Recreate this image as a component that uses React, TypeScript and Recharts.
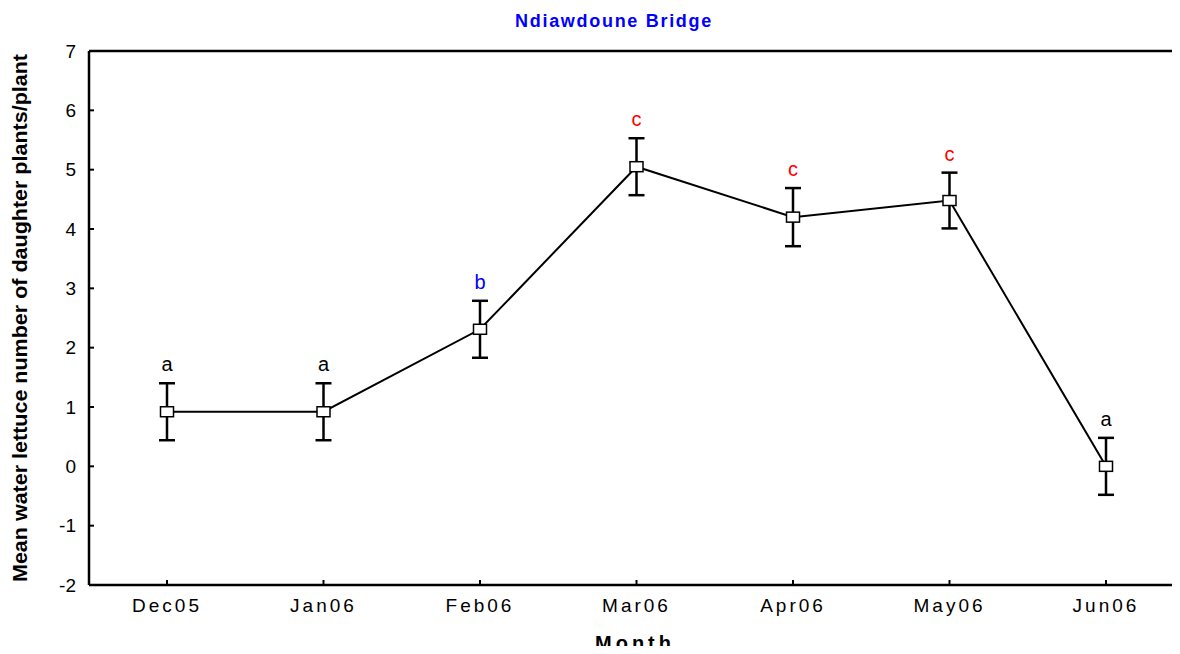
import React from 'react';
import {
  ComposedChart,
  Line,
  XAxis,
  YAxis,
  ErrorBar,
  LabelList,
} from 'recharts';

// values
const months = ['Dec05', 'Jan06', 'Feb06', 'Mar06', 'Apr06', 'May06', 'Jun06'];
const means = [0.92, 0.92, 2.31, 5.05, 4.2, 4.48, 0.0];
const errors = [0.48, 0.48, 0.48, 0.48, 0.49, 0.47, 0.48];
const letters = ['a', 'a', 'b', 'c', 'c', 'c', 'a'];
const letterColors = ['#000000', '#000000', '#0000ff', '#ff0000', '#ff0000', '#ff0000', '#000000'];
const yTicks = [-2, -1, 0, 1, 2, 3, 4, 5, 6, 7];

const data = months.map((m, i) => ({
  month: m,
  mean: means[i],
  err: errors[i],
  upper: means[i] + errors[i],
  letter: letters[i],
}));

const FONT = 'Arial, "Liberation Sans", sans-serif';
const NARROW = '"Liberation Sans Narrow", "Arial Narrow", "Liberation Sans", sans-serif';

const SquareDot = (props: any) => {
  const { cx, cy } = props;
  if (cx == null || cy == null) return null;
  return (
    <rect
      x={cx - 6.5}
      y={cy - 5}
      width={13}
      height={10}
      fill="#ffffff"
      stroke="#000000"
      strokeWidth={1.5}
    />
  );
};

const LetterLabel = (props: any) => {
  const { x, y, index, value } = props;
  return (
    <text
      x={x}
      y={y - 12}
      textAnchor="middle"
      fontFamily={FONT}
      fontSize={20}
      fill={letterColors[index]}
    >
      {value}
    </text>
  );
};

export default function App() {
  return (
    <div
      style={{
        margin: -8,
        width: 1180,
        height: 654,
        overflow: 'hidden',
        position: 'relative',
        background: '#ffffff',
      }}
    >
      <ComposedChart
        width={1200}
        height={654}
        data={data}
        margin={{ top: 50, right: 14, bottom: 0, left: 0 }}
      >
        <XAxis
          xAxisId="bottom"
          dataKey="month"
          orientation="bottom"
          height={69}
          padding={{ left: 78, right: 79 }}
          axisLine={{ stroke: '#000', strokeWidth: 2.5 }}
          tickLine={{ stroke: '#000', strokeWidth: 2 }}
          tickSize={-5}
          tickMargin={19}
          interval={0}
          tick={{ fill: '#000', fontSize: 19, fontFamily: FONT, letterSpacing: 3 }}
          label={{
            content: () => (
              <text
                x={635}
                y={650}
                textAnchor="middle"
                fontFamily={FONT}
                fontSize={20}
                fontWeight="bold"
                fill="#000"
                letterSpacing={4}
              >
                Month
              </text>
            ),
          }}
        />
        <XAxis
          xAxisId="top"
          dataKey="month"
          orientation="top"
          height={1}
          padding={{ left: 78, right: 79 }}
          axisLine={{ stroke: '#000', strokeWidth: 2.5 }}
          tickLine={{ stroke: '#000', strokeWidth: 2 }}
          tickSize={-5}
          tick={false}
          interval={0}
          label={{
            content: () => (
              <text
                x={614}
                y={27}
                textAnchor="middle"
                fontFamily={FONT}
                fontSize={18}
                fontWeight="bold"
                fill="#0000ff"
                letterSpacing={1.7}
              >
                Ndiawdoune Bridge
              </text>
            ),
          }}
        />
        <YAxis
          yAxisId="left"
          orientation="left"
          width={89}
          type="number"
          domain={[-2, 7]}
          ticks={yTicks}
          interval={0}
          axisLine={{ stroke: '#000', strokeWidth: 2.5 }}
          tickLine={{ stroke: '#000', strokeWidth: 2 }}
          tickSize={-5}
          tickMargin={18}
          tick={{ fill: '#000', fontSize: 19, fontFamily: FONT }}
          label={{
            content: () => (
              <text
                x={27}
                y={318}
                transform="rotate(-90 27 318)"
                textAnchor="middle"
                fontFamily={NARROW}
                fontSize={21}
                fontWeight="bold"
                fill="#000"
                textLength={528}
                lengthAdjust="spacingAndGlyphs"
              >
                Mean water lettuce number of daughter plants/plant
              </text>
            ),
          }}
        />
        <YAxis
          yAxisId="right"
          orientation="right"
          width={1}
          type="number"
          domain={[-2, 7]}
          ticks={yTicks}
          interval={0}
          axisLine={{ stroke: '#000', strokeWidth: 2.5 }}
          tickLine={{ stroke: '#000', strokeWidth: 2 }}
          tickSize={-5}
          tick={false}
        />
        <Line
          xAxisId="bottom"
          yAxisId="left"
          dataKey="upper"
          stroke="none"
          dot={false}
          activeDot={false}
          isAnimationActive={false}
        >
          <LabelList dataKey="letter" content={<LetterLabel />} />
        </Line>
        <Line
          xAxisId="bottom"
          yAxisId="left"
          dataKey="mean"
          type="linear"
          stroke="#000"
          strokeWidth={2}
          dot={<SquareDot />}
          activeDot={false}
          isAnimationActive={false}
        >
          <ErrorBar
            dataKey="err"
            direction="y"
            width={8}
            stroke="#000"
            strokeWidth={2.5}
            isAnimationActive={false}
          />
        </Line>
      </ComposedChart>
    </div>
  );
}
